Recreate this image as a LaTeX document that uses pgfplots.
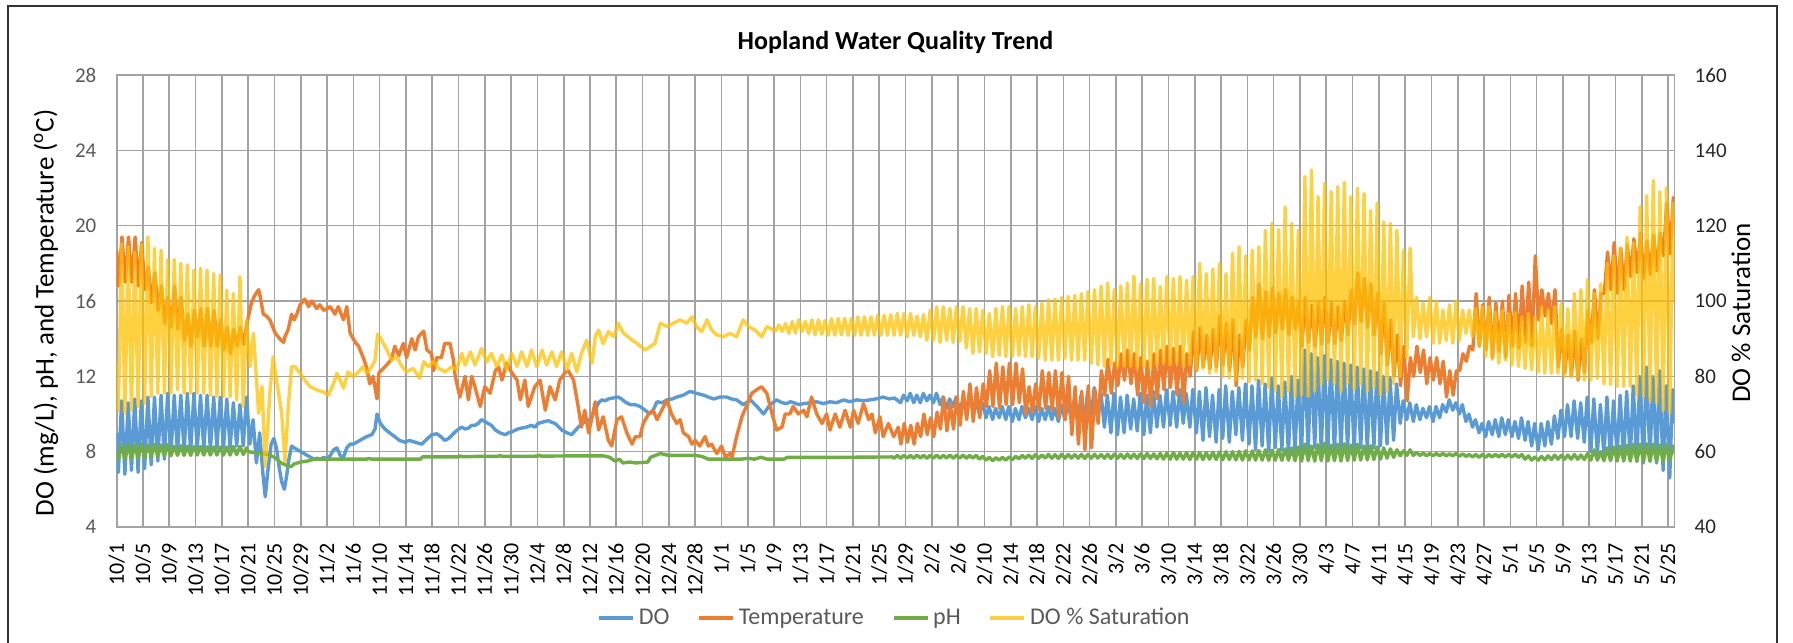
\documentclass[border=0pt]{standalone}
\usepackage{pgfplots}
\pgfplotsset{compat=1.18}
\usepackage{fontspec}
\setmainfont{Carlito}
\definecolor{cDO}{HTML}{5B9BD5}
\definecolor{cT}{HTML}{ED7D31}
\definecolor{cPH}{HTML}{70AD47}
\definecolor{cS}{HTML}{FFC000}
\definecolor{gridc}{HTML}{A3A3A3}
\definecolor{tickc}{HTML}{595959}
\begin{document}
\begin{tikzpicture}
\pgfplotsset{
  common/.style={
    at={(58.35bp,58bp)}, anchor=south west,
    scale only axis, width=778.8bp, height=226bp,
    xmin=0, xmax=236.95,
    major tick length=0pt,
    /pgf/number format/assume math mode=true,
    every axis plot/.append style={line width=1.7bp, line join=round, mark=none},
  }
}
\begin{axis}[common,
  ymin=4, ymax=28, ytick={4,8,...,28},
  xtick={0,4,...,236},
  xticklabels={10/1,10/5,10/9,10/13,10/17,10/21,10/25,10/29,11/2,11/6,11/10,11/14,11/18,11/22,11/26,11/30,12/4,12/8,12/12,12/16,12/20,12/24,12/28,1/1,1/5,1/9,1/13,1/17,1/21,1/25,1/29,2/2,2/6,2/10,2/14,2/18,2/22,2/26,3/2,3/6,3/10,3/14,3/18,3/22,3/26,3/30,4/3,4/7,4/11,4/15,4/19,4/23,4/27,5/1,5/5,5/9,5/13,5/17,5/21,5/25},
  grid=major,
  major grid style={draw=gridc, line width=0.8bp},
  axis line style={draw=gridc, line width=0.8bp},
  xticklabel style={rotate=90, anchor=east, font=\fontsize{11bp}{13bp}\selectfont, inner sep=0pt},
  xticklabel shift=8bp,
  yticklabel style={font=\fontsize{10.5bp}{12bp}\selectfont, text=tickc, inner sep=0pt},
  yticklabel shift=10bp,
  ytick pos=left, xtick pos=bottom,
]
% DO
\addplot[cDO] coordinates {
(0,9.0) (0.25,6.9) (0.75,10.7) (1.25,6.8) (1.75,10.6) (2.25,7.0) (2.75,10.8) (3.25,6.9) (3.75,10.7) (4.25,7.1) (4.75,10.9) (5.25,7.3) (5.75,10.9) (6.25,7.5) (6.75,11.0) (7.25,7.6) (7.75,11.1) (8.25,7.8) (8.75,11.0) (9.25,7.9) (9.75,11.0) (10.25,8.0) (10.75,11.1) (11.25,8.0) (11.75,11.1) (12.25,8.1) (12.75,11.0) (13.25,8.1) (13.75,11.0) (14.25,8.1) (14.75,10.9) (15.25,8.2) (15.75,10.9) (16.25,8.2) (16.75,10.8) (17.25,8.2) (17.75,10.6) (18.25,8.3) (18.75,10.5) (19.25,8.3) (19.75,10.9)
(20.25,8.4) (20.75,9.7) (21.25,7.4) (21.75,9.0) (22.25,6.8) (22.6,5.6) (23.0,7.0) (23.5,8.4) (23.9,8.7) (24.3,8.2) (24.7,7.2) (25.1,6.4) (25.5,6.0) (25.8,6.6) (26.2,7.6) (26.6,8.3) (27.0,8.2) (27.5,8.1) (28,8.0) (28.5,7.9) (29,7.8) (29.5,7.7) (30,7.6) (30.5,7.65) (31,7.6) (31.5,7.7) (32,7.6) (32.5,7.8) (33,8.1) (33.5,8.2) (34,7.8) (34.5,7.7) (35,8.2) (35.5,8.4) (36,8.4) (36.5,8.5) (37,8.6) (37.5,8.7) (38,8.8) (38.8,8.9) (39.3,9.2) (39.6,10.0) (40.1,9.5) (40.8,9.2) (41.5,9.0) (42.3,8.8) (43,8.6) (43.9,8.5) (44.5,8.6) (45.4,8.5) (46.4,8.4) (47,8.6) (47.9,8.9) (48.7,8.95) (49.3,8.8) (49.9,8.6) (50.5,8.7) (51.5,9.05) (52,9.2) (52.5,9.3) (53,9.2) (53.5,9.25) (54,9.4) (54.5,9.4) (55,9.5) (55.5,9.7) (56,9.6) (56.5,9.5) (57,9.4) (57.6,9.15) (58.3,9.0) (59.1,8.9) (59.6,9.0) (60.1,9.05) (61,9.2) (61.6,9.25) (62.3,9.3) (63.1,9.4) (63.6,9.3) (64.1,9.5) (65.1,9.6) (65.7,9.65) (66.2,9.55) (66.7,9.5) (67.7,9.15) (68.5,9.0) (69.2,8.9) (70.2,9.3) (71.2,9.6) (72,9.7) (72.8,10.2) (73.3,10.6) (73.8,10.75) (74.3,10.7) (74.8,10.8) (75.5,10.85) (76.3,10.9) (76.8,10.8) (77.3,10.65) (78.1,10.5) (78.8,10.5) (79.6,10.4) (80.4,10.2) (81.1,10.0) (81.6,10.2) (82.2,10.65) (83,10.6) (83.7,10.75) (84.5,10.8) (85.2,10.9) (86.2,11.0) (87.2,11.2) (88.2,11.1) (89.3,11.0) (90,10.9) (90.8,10.8) (91.8,10.9) (92.8,10.9) (93.5,10.8) (94.3,10.75) (95.3,10.5) (95.8,10.6) (96.4,10.75) (97.4,10.4) (98.4,10.0) (99.4,10.5) (100.4,10.75) (101.2,10.6) (101.9,10.55) (102.5,10.65) (103,10.6) (103.7,10.5) (104.5,10.55) (105.5,10.6) (106.5,10.65) (107.5,10.55) (108.5,10.65) (109.5,10.6) (110.6,10.75) (111.5,10.65) (112.6,10.75) (113.5,10.7) (114.6,10.75) (115.5,10.8) (116.6,10.9) (117.5,10.8) (118.3,10.85)
(119.25,10.6) (119.7,11.0) (120.25,10.7) (120.7,11.1) (121.25,10.6) (121.7,11.0) (122.25,10.6) (122.7,11.1) (123.25,10.7) (123.7,11.0) (124.25,10.6) (124.7,11.1) (125.25,10.5) (125.7,10.9) (126.25,10.3) (126.7,10.8) (127.25,10.4) (127.7,10.9) (128.25,10.2) (128.7,10.7) (129.25,10.3) (129.7,10.8) (130.25,10.2) (130.7,10.6) (131.25,10.0) (131.7,10.6) (132.25,9.8) (132.7,10.4) (133.25,9.7) (133.7,10.3) (134.25,9.8) (134.7,10.4) (135.25,9.7) (135.7,10.4) (136.25,9.6) (136.7,10.3) (137.25,9.7) (137.7,10.4) (138.25,9.8) (138.7,10.3) (139.25,9.7) (139.7,10.4) (140.25,9.6) (140.7,10.3) (141.25,9.7) (141.7,10.4) (142.25,9.7) (142.7,10.3) (143.25,9.6) (143.7,10.5) (144.25,9.7) (144.7,10.6) (145.25,9.7) (145.7,10.8) (146.25,9.6) (146.7,11.0) (147.25,9.6) (147.7,11.2) (148.25,9.8) (148.7,11.4) (149.25,9.7) (149.7,11.2) (150.25,9.3) (150.7,11.0) (151.25,9.0) (151.7,11.1) (152.25,8.9) (152.7,10.9) (153.25,9.0) (153.7,11.0) (154.25,9.2) (154.7,10.8) (155.25,9.1) (155.7,11.1) (156.25,8.9) (156.7,11.0) (157.25,9.0) (157.7,11.2) (158.25,9.3) (158.7,11.0) (159.25,9.3) (159.7,11.3) (160.25,9.4) (160.7,11.2) (161.25,9.3) (161.7,11.3) (162.25,9.5) (162.7,11.1) (163.25,9.3) (163.7,11.3) (164.25,9.0) (164.7,11.2) (165.25,8.6) (165.7,11.4) (166.25,8.8) (166.7,11.0) (167.25,8.5) (167.7,11.3) (168.25,8.7) (168.7,11.5) (169.25,8.5) (169.7,11.2) (170.25,8.9) (170.7,11.4) (171.25,8.6) (171.7,11.6) (172.25,8.4) (172.7,11.5) (173.25,8.1) (173.7,11.8) (174.25,8.3) (174.7,11.6) (175.25,8.0) (175.7,11.9) (176.25,8.2) (176.7,11.5) (177.25,8.1) (177.7,11.7) (178.25,7.9) (178.7,12.0) (179.25,8.0) (179.7,11.8) (180.25,8.0) (180.7,13.4) (181.25,7.9) (181.7,13.2) (182.25,8.2) (182.7,13.0) (183.25,8.0) (183.7,13.1) (184.25,8.1) (184.7,12.9) (185.25,7.9) (185.7,12.8) (186.25,8.0) (186.7,12.7) (187.25,8.1) (187.7,12.6) (188.25,8.0) (188.7,12.5) (189.25,8.2) (189.7,12.4) (190.25,8.1) (190.7,12.3) (191.25,8.2) (191.7,12.2) (192.25,8.3) (192.7,12.0) (193.25,8.4) (193.7,11.9) (194.25,8.6) (194.7,11.6) (195.25,9.5) (195.7,10.7) (196.25,9.7) (196.7,10.6) (197.25,9.6) (197.7,10.5) (198.25,9.7) (198.7,10.3) (199.25,9.8) (199.7,10.4) (200.25,9.6) (200.7,10.4) (201.25,9.8) (201.7,10.5) (202.25,10.1) (202.7,10.75) (203.25,10.2) (203.7,10.6) (204.25,10.0) (204.7,10.5) (205.25,9.6) (205.7,10.0) (206.25,9.3) (206.7,9.7) (207.25,9.0) (207.7,9.5) (208.25,8.8) (208.7,9.6) (209.25,8.9) (209.7,9.7) (210.25,8.8) (210.7,9.8) (211.25,8.9) (211.7,9.7) (212.25,8.8) (212.7,9.6) (213.25,8.7) (213.7,9.8) (214.25,8.6) (214.7,9.6) (215.25,8.3) (215.7,9.5) (216.25,8.1) (216.7,9.5) (217.25,8.3) (217.7,9.6) (218.25,8.4) (218.7,9.9) (219.25,8.7) (219.7,10.2) (220.25,8.8) (220.7,10.5) (221.25,8.8) (221.7,10.7) (222.25,8.7) (222.7,10.6) (223.25,8.5) (223.7,10.9) (224.25,8.0) (224.7,10.8) (225.25,7.9) (225.7,10.5) (226.25,7.8) (226.7,10.9) (227.25,7.6) (227.7,10.7) (228.25,7.8) (228.7,11.0) (229.25,7.7) (229.7,11.2) (230.25,7.6) (230.7,11.5) (231.25,7.5) (231.7,12.0) (232.25,7.4) (232.7,12.5) (233.25,7.6) (233.7,12.0) (234.25,7.4) (234.7,12.3) (235.25,7.0) (235.7,11.5) (236.25,6.6) (236.7,11.3) (236.95,9.5)
};
% Temperature
\addplot[cT] coordinates {
(0,18.7) (0.3,16.8) (0.8,19.4) (1.3,17.0) (1.8,19.4) (2.3,17.0) (2.8,19.4) (3.3,16.8) (3.8,19.1) (4.3,16.6) (4.8,17.8) (5.3,15.9) (5.8,17.5) (6.3,15.5) (6.8,16.8) (7.3,14.8) (7.8,16.2) (8.3,14.6) (8.8,16.8) (9.3,14.5) (9.8,16.2) (10.3,13.9) (10.8,15.3) (11.3,13.6) (11.8,15.5) (12.3,14.1) (12.8,15.6) (13.3,13.6) (13.8,15.6) (14.3,13.6) (14.8,15.5) (15.3,13.6) (15.8,15.0) (16.3,13.4) (16.8,14.6) (17.3,13.2) (17.8,14.5) (18.3,13.6) (18.8,14.6) (19.3,13.7)
(19.8,14.8) (20.5,15.9) (21.0,16.3) (21.6,16.6) (21.8,16.3) (22.3,15.3) (22.8,15.2) (23.3,15.0) (24.1,14.3) (24.8,14.0) (25.4,13.8) (25.6,14.1) (26.1,14.5) (26.6,15.3) (27.0,15.0) (27.4,15.3) (27.9,15.8) (28.6,16.1) (29.2,15.7) (29.7,16.0) (30.4,15.6) (30.9,15.8) (31.5,15.5) (32.0,15.6) (32.5,15.7) (33.2,15.3) (33.7,15.7) (34.5,15.0) (35.0,15.7) (35.5,14.3) (36.3,13.8) (36.8,13.6) (37.5,13.0) (38.0,12.5) (38.5,11.6) (39.0,12.0) (39.6,10.8) (39.9,12.2) (40.8,12.5) (41.8,12.9) (42.3,13.6) (42.9,13.1) (43.6,13.75) (44.1,13.0) (44.9,14.0) (45.4,13.4) (45.9,14.1) (46.7,14.4) (47.2,13.4) (47.9,13.2) (48.2,12.3) (48.7,13.0) (49.4,13.0) (49.9,13.75) (50.7,13.75) (51.2,12.9) (51.5,12.0) (52.2,10.9) (53.0,12.0) (53.5,10.75) (54.0,12.0) (54.5,11.45) (55.3,10.4) (56.0,11.45) (56.8,11.1) (57.6,12.3) (58.1,12.5) (58.6,11.8) (59.3,12.7) (60.1,12.2) (60.9,11.8) (61.4,10.75) (62.1,11.8) (62.6,10.4) (63.6,11.45) (64.4,11.8) (65.2,10.2) (65.9,11.45) (66.7,10.75) (67.4,11.8) (68.2,12.2) (68.7,12.3) (69.5,11.8) (70.2,10.4) (70.7,9.3) (71.2,10.2) (71.8,9.0) (72.8,10.65) (73.3,9.15) (74.0,9.85) (74.8,8.6) (75.3,8.3) (76.1,9.7) (76.8,9.85) (77.6,9.0) (78.4,8.4) (78.9,8.8) (79.6,8.8) (80.1,9.5) (80.9,10.0) (81.6,10.2) (82.2,9.7) (82.9,10.2) (83.7,10.75) (84.4,10.0) (85.2,9.5) (85.7,9.7) (86.2,9.0) (87.0,8.8) (87.5,8.4) (88.0,8.6) (88.7,8.3) (89.5,8.8) (90.0,8.3) (90.5,8.4) (91.3,7.9) (92.0,8.3) (92.6,7.7) (93.3,7.9) (93.6,7.7) (94.3,8.8) (95.1,9.85) (95.8,10.4) (96.6,11.1) (97.4,11.3) (98.1,11.45) (98.9,11.1) (99.7,10.0) (100.4,9.15) (101.2,9.3) (101.7,10.0) (102.4,10.0) (102.9,10.4) (103.7,10.0) (104.5,10.2) (105.0,9.85) (105.7,10.9) (106.5,10.0) (107.3,9.5) (108.0,10.0) (108.5,9.15) (109.3,10.0) (110.0,9.3) (110.8,10.2) (111.6,9.3) (112.1,10.2) (112.8,9.5) (113.6,10.55) (114.4,9.7) (114.9,10.0) (115.4,9.0) (116.1,9.85) (116.6,8.8) (117.4,9.5) (118.2,8.8) (118.9,9.3)
(119.3,8.4) (119.8,9.5) (120.3,8.5) (120.8,9.4) (121.3,8.4) (121.8,9.5) (122.3,8.8) (122.8,10.0) (123.3,8.9) (123.8,9.8) (124.3,8.8) (124.8,10.1) (125.3,9.2) (125.8,10.9) (126.3,9.1) (126.8,10.6) (127.3,9.2) (127.8,10.9) (128.3,9.4) (128.8,11.2) (129.3,9.7) (129.8,11.6) (130.3,9.6) (130.8,11.4) (131.3,9.8) (131.8,11.6) (132.3,10.4) (132.8,12.3) (133.3,10.4) (133.8,12.7) (134.3,10.3) (134.8,12.5) (135.3,10.5) (135.8,12.7) (136.3,10.5) (136.8,12.7) (137.3,10.6) (137.8,12.4) (138.3,10.0) (138.8,11.45) (139.3,10.1) (139.8,11.6) (140.3,10.2) (140.8,12.3) (141.3,10.3) (141.8,12.2) (142.3,10.2) (142.8,12.3) (143.3,9.8) (143.8,12.2) (144.3,9.7) (144.8,12.0) (145.3,8.9) (145.8,11.45) (146.3,8.4) (146.8,11.2) (147.3,8.1) (147.8,11.5) (148.3,8.2) (148.8,11.3) (149.3,9.5) (149.8,12.3) (150.3,11.0) (150.8,12.9) (151.3,11.1) (151.8,12.7) (152.3,11.5) (152.8,13.2) (153.3,11.8) (153.8,13.4) (154.3,11.6) (154.8,13.2) (155.3,11.0) (155.8,13.0) (156.3,10.6) (156.8,12.8) (157.3,10.4) (157.8,13.2) (158.3,10.8) (158.8,13.4) (159.3,11.3) (159.8,13.6) (160.3,11.4) (160.8,13.5) (161.3,11.0) (161.8,13.6) (162.3,10.6) (162.8,13.2) (163.3,12.0) (163.8,14.4) (164.3,12.3) (164.8,14.6) (165.3,12.5) (165.8,14.2) (166.3,12.4) (166.8,14.5) (167.3,12.5) (167.8,15.2) (168.3,12.6) (168.8,14.8) (169.3,12.3) (169.8,15.0) (170.3,11.5) (170.8,14.2) (171.3,12.5) (171.8,15.0) (172.3,13.4) (172.8,16.2) (173.3,14.1) (173.8,16.9) (174.3,14.0) (174.8,16.5) (175.3,14.1) (175.8,16.7) (176.3,14.3) (176.8,16.4) (177.3,14.5) (177.8,16.6) (178.3,14.2) (178.8,16.2) (179.3,14.5) (179.8,16.0) (180.3,13.6) (180.8,16.2) (181.3,13.8) (181.8,15.8) (182.3,13.6) (182.8,16.0) (183.3,13.7) (183.8,16.2) (184.3,13.8) (184.8,15.9) (185.3,13.75) (185.8,15.7) (186.3,13.9) (186.8,16.0) (187.3,14.2) (187.8,16.6) (188.3,14.8) (188.8,17.5) (189.3,14.9) (189.8,17.2) (190.3,14.6) (190.8,16.9) (191.3,14.2) (191.8,16.4) (192.3,13.2) (192.8,15.9) (193.3,12.6) (193.8,15.0) (194.3,12.0) (194.8,14.2) (195.3,11.5) (195.8,13.6) (196.3,10.7) (196.8,13.0) (197.3,12.0) (197.8,13.6) (198.3,12.2) (198.8,13.4) (199.3,11.6) (199.8,13.0) (200.3,11.8) (200.8,13.0) (201.3,11.6) (201.8,12.8) (202.3,10.9) (202.8,12.3) (203.3,11.0) (203.8,12.3) (204.3,12.3) (204.8,13.2) (205.3,12.8) (205.8,13.6) (206.3,13.4) (206.8,16.4) (207.3,13.6) (207.8,15.8) (208.3,13.4) (208.8,16.2) (209.3,13.0) (209.8,15.9) (210.3,13.3) (210.8,16.0) (211.3,13.0) (211.8,16.3) (212.3,13.6) (212.8,16.4) (213.3,13.5) (213.8,16.8) (214.3,13.8) (214.8,17.0) (215.3,13.6) (215.8,18.4) (216.3,15.0) (216.8,16.6) (217.3,15.2) (217.8,16.4) (218.3,14.8) (218.8,16.6) (219.3,12.5) (219.8,14.5) (220.3,12.2) (220.8,14.2) (221.3,12.0) (221.8,14.4) (222.3,11.8) (222.8,14.0) (223.3,12.2) (223.8,15.5) (224.3,13.8) (224.8,16.6) (225.3,14.0) (225.8,16.4) (226.3,16.4) (226.8,18.6) (227.3,16.6) (227.8,19.1) (228.3,16.4) (228.8,18.8) (229.3,16.6) (229.8,19.0) (230.3,17.3) (230.8,19.3) (231.3,17.5) (231.8,19.6) (232.3,17.2) (232.8,19.2) (233.3,17.4) (233.8,19.5) (234.3,17.6) (234.8,19.6) (235.3,18.4) (235.8,21.2) (236.3,18.5) (236.8,21.5) (236.95,20.5)
};
% pH
\addplot[cPH] coordinates {
(0,7.9) (0.25,7.6) (0.75,8.35) (1.25,7.6) (1.75,8.35) (2.25,7.62) (2.75,8.38) (3.25,7.65) (3.75,8.4) (4.25,7.7) (4.75,8.35) (5.25,7.75) (5.75,8.38) (6.25,7.75) (6.75,8.35) (7.25,7.78) (7.75,8.38) (8.25,7.78) (8.75,8.3) (9.25,7.8) (9.75,8.32) (10.25,7.8) (10.75,8.3) (11.25,7.8) (11.75,8.28) (12.25,7.82) (12.75,8.28) (13.25,7.82) (13.75,8.26) (14.25,7.82) (14.75,8.26) (15.25,7.82) (15.75,8.25) (16.25,7.82) (16.75,8.25) (17.25,7.82) (17.75,8.28) (18.25,7.84) (18.75,8.28) (19.25,7.85) (19.75,8.2)
(20.0,8.0) (21,7.95) (22,7.9) (23,7.85) (24,7.7) (25,7.4) (26,7.25) (26.5,7.2) (27,7.35) (28,7.45) (29,7.5) (30,7.6) (38,7.6) (38.4,7.64) (38.8,7.6) (46.2,7.6) (46.5,7.72) (52,7.72) (52.3,7.78) (52.6,7.73) (55,7.75) (58,7.75) (58.3,7.8) (58.6,7.75) (64,7.76) (64.3,7.81) (64.6,7.76) (70,7.78) (74,7.78) (75,7.7) (75.8,7.5) (76.5,7.6) (77,7.4) (78,7.45) (79,7.4) (80.8,7.45) (81.2,7.7) (82.7,7.9) (84,7.8) (88,7.8) (89,7.75) (90,7.6) (95,7.6) (96,7.65) (97,7.6) (98,7.7) (99,7.6) (101.5,7.6) (102,7.7) (110,7.7) (118,7.72)
(118.25,7.65) (118.75,7.8) (119.25,7.65) (119.75,7.8) (120.25,7.66) (120.75,7.8) (121.25,7.65) (121.75,7.82) (122.25,7.66) (122.75,7.8) (123.25,7.65) (123.75,7.8) (124.25,7.66) (124.75,7.82) (125.25,7.65) (125.75,7.8) (126.25,7.66) (126.75,7.82) (127.25,7.65) (127.75,7.8) (128.25,7.66) (128.75,7.82) (129.25,7.65) (129.75,7.8) (130.25,7.66) (130.75,7.8) (131.25,7.6) (131.75,7.75) (132.25,7.55) (132.75,7.7) (133.25,7.52) (133.75,7.68) (134.25,7.55) (134.75,7.7) (135.25,7.55) (135.75,7.72) (136.25,7.58) (136.75,7.75) (137.25,7.62) (137.75,7.8) (138.25,7.65) (138.75,7.82) (139.25,7.64) (139.75,7.84) (140.25,7.65) (140.75,7.82) (141.25,7.66) (141.75,7.85) (142.25,7.65) (142.75,7.84) (143.25,7.64) (143.75,7.86) (144.25,7.65) (144.75,7.85) (145.25,7.66) (145.75,7.84) (146.25,7.65) (146.75,7.86) (147.25,7.64) (147.75,7.85) (148.25,7.65) (148.75,7.86) (149.25,7.66) (149.75,7.85) (150.25,7.65) (150.75,7.86) (151.25,7.64) (151.75,7.87) (152.25,7.65) (152.75,7.86) (153.25,7.64) (153.75,7.88) (154.25,7.65) (154.75,7.87) (155.25,7.64) (155.75,7.88) (156.25,7.63) (156.75,7.9) (157.25,7.64) (157.75,7.88) (158.25,7.62) (158.75,7.9) (159.25,7.6) (159.75,7.92) (160.25,7.6) (160.75,7.95) (161.25,7.6) (161.75,7.93) (162.25,7.6) (162.75,7.95) (163.25,7.58) (163.75,7.95) (164.25,7.6) (164.75,7.96) (165.25,7.58) (165.75,7.95) (166.25,7.6) (166.75,7.97) (167.25,7.58) (167.75,7.98) (168.25,7.57) (168.75,8.0) (169.25,7.58) (169.75,8.0) (170.25,7.56) (170.75,8.02) (171.25,7.55) (171.75,8.05) (172.25,7.56) (172.75,8.04) (173.25,7.55) (173.75,8.06) (174.25,7.55) (174.75,8.1) (175.25,7.54) (175.75,8.08) (176.25,7.55) (176.75,8.12) (177.25,7.54) (177.75,8.15) (178.25,7.55) (178.75,8.2) (179.25,7.52) (179.75,8.25) (180.25,7.5) (180.75,8.4) (181.25,7.52) (181.75,8.3) (182.25,7.5) (182.75,8.38) (183.25,7.52) (183.75,8.45) (184.25,7.5) (184.75,8.35) (185.25,7.52) (185.75,8.4) (186.25,7.5) (186.75,8.42) (187.25,7.52) (187.75,8.35) (188.25,7.55) (188.75,8.4) (189.25,7.55) (189.75,8.3) (190.25,7.56) (190.75,8.32) (191.25,7.58) (191.75,8.25) (192.25,7.6) (192.75,8.2) (193.25,7.65) (193.75,8.15) (194.25,7.7) (194.75,8.1) (195.25,7.78) (195.75,8.05) (196.25,7.8) (196.75,8.1) (197.25,7.8) (197.75,7.95) (198.25,7.8) (198.75,7.92) (199.25,7.78) (199.75,7.9) (200.25,7.78) (200.75,7.9) (201.25,7.78) (201.75,7.9) (202.25,7.78) (202.75,7.88) (203.25,7.78) (203.75,7.9) (204.25,7.76) (204.75,7.88) (205.25,7.75) (205.75,7.85) (206.25,7.72) (206.75,7.85) (207.25,7.7) (207.75,7.85) (208.25,7.7) (208.75,7.85) (209.25,7.72) (209.75,7.85) (210.25,7.72) (210.75,7.86) (211.25,7.72) (211.75,7.85) (212.25,7.72) (212.75,7.86) (213.25,7.7) (213.75,7.85) (214.25,7.6) (214.75,7.78) (215.25,7.55) (215.75,7.72) (216.25,7.55) (216.75,7.75) (217.25,7.56) (217.75,7.78) (218.25,7.58) (218.75,7.82) (219.25,7.6) (219.75,7.8) (220.25,7.6) (220.75,7.82) (221.25,7.6) (221.75,7.85) (222.25,7.6) (222.75,7.82) (223.25,7.58) (223.75,7.9) (224.25,7.55) (224.75,8.1) (225.25,7.55) (225.75,8.0) (226.25,7.52) (226.75,8.2) (227.25,7.52) (227.75,8.25) (228.25,7.5) (228.75,8.3) (229.25,7.5) (229.75,8.35) (230.25,7.5) (230.75,8.4) (231.25,7.48) (231.75,8.4) (232.25,7.5) (232.75,8.42) (233.25,7.48) (233.75,8.4) (234.25,7.5) (234.75,8.35) (235.25,7.48) (235.75,8.4) (236.25,7.5) (236.75,8.3) (236.95,7.9)
};
\end{axis}
\begin{axis}[common,
  ymin=40, ymax=160, ytick={40,60,...,160},
  axis y line*=right, axis x line=none,
  axis line style={draw=gridc, line width=0.8bp},
  yticklabel style={font=\fontsize{10.5bp}{12bp}\selectfont, text=black!85, inner sep=0pt},
  yticklabel shift=10bp,
  legend style={at={(0.5,-0.2013)}, anchor=center, draw=none, fill=none,
    legend columns=4, font=\fontsize{12bp}{14bp}\selectfont, text=tickc,
    /tikz/every even column/.append style={column sep=12bp}},
  legend image code/.code={\draw[#1] (0bp,0bp) -- (17bp,0bp);},
]
\addlegendimage{cDO, line width=1.7bp}\addlegendentry{DO}
\addlegendimage{cT, line width=1.7bp}\addlegendentry{Temperature}
\addlegendimage{cPH, line width=1.7bp}\addlegendentry{pH}
\addplot[cS, draw opacity=0.75] coordinates {
(0,84) (0.25,71) (0.75,115.3) (1.25,70.2) (1.75,114.5) (2.25,71) (2.75,113) (3.25,72) (3.75,115) (4.25,72.8) (4.75,117) (5.25,74.6) (5.75,114) (6.25,75.5) (6.75,113.5) (7.25,75.5) (7.75,110.9) (8.25,75.5) (8.75,111) (9.25,76.4) (9.75,110) (10.25,75.5) (10.75,109.6) (11.25,75.5) (11.75,108.2) (12.25,75.5) (12.75,108.7) (13.25,75.5) (13.75,108.2) (14.25,75) (14.75,107.3) (15.25,74.6) (15.75,106.9) (16.25,74.6) (16.75,102.9) (17.25,74.6) (17.75,102) (18.25,73.7) (18.75,106.5) (19.25,72) (19.75,95)
(20.3,82.6) (20.8,91.4) (21.6,70.2) (22.1,77.3) (22.6,56) (23.3,75.5) (23.8,85.2) (24.3,79) (25.1,70.2) (25.6,57.3) (26.1,72) (26.6,82.6) (27.1,82.6) (27.9,80.8) (28.6,79) (29.4,77.3) (30.4,76.4) (31.4,75.9) (32.2,75.0) (33.0,78.1) (33.5,80.8) (34.0,79) (34.5,76.8) (35.2,81.2) (36.0,79.9) (36.8,81.2) (37.5,82.6) (38.0,80.8) (38.8,82.6) (39.3,84.3) (39.7,91.2) (40.3,89.6) (41.1,87) (41.8,84.3) (42.6,85.2) (43.4,82.6) (44.1,81.2) (45.1,82.1) (46.1,79.5) (46.7,83.9) (47.4,82.6) (48.2,83.9) (49.0,82.1) (50.0,81.2) (51.0,82.6) (51.7,81.7) (52.5,86.1) (53.0,83) (53.8,86.5) (54.5,83) (55.5,87.4) (56.3,83.9) (57.0,86.1) (57.8,82.6) (58.6,85.7) (59.3,81.7) (60.1,86.1) (60.9,82.6) (61.6,86.5) (62.4,82.6) (63.1,87) (63.9,82.6) (64.7,87) (65.4,83) (66.2,86.5) (66.9,82.6) (67.7,86.5) (68.5,81.7) (69.2,86.1) (70.0,81.2) (70.7,86.1) (71.5,89.6) (72.3,83.5) (72.8,90.5) (73.3,92.3) (74.0,88.7) (74.8,91.9) (75.6,90.5) (76.3,94.1) (77.1,91.4) (77.8,90.5) (78.4,89.6) (79.1,88.8) (80.4,87) (81.9,88.8) (82.7,94.1) (83.7,93.2) (84.7,94.1) (85.7,95) (86.7,94.1) (87.5,95.8) (88.2,93.2) (89.0,91.9) (89.8,95) (90.5,92.3) (91.3,91) (92.3,90.5) (93.3,91.4) (94.3,90.5) (95.3,95) (96.1,93.2) (97.1,92.3) (98.1,90.5) (98.9,93.2) (99.9,92.3)
(100.25,92.0) (100.75,93.6) (101.25,91.9) (101.75,94.0) (102.25,91.4) (102.75,94.5) (103.25,91.5) (103.75,95.0) (104.25,91.9) (104.75,94.6) (105.25,91.4) (105.75,95.0) (106.25,91.0) (106.75,95.0) (107.25,91.2) (107.75,94.8) (108.25,90.9) (108.75,95.3) (109.25,90.9) (109.75,95.4) (110.25,91.0) (110.75,95.4) (111.25,90.9) (111.75,95.4) (112.25,90.9) (112.75,95.8) (113.25,90.9) (113.75,95.8) (114.25,90.9) (114.75,95.8) (115.25,90.9) (115.75,96.2) (116.25,90.9) (116.75,96.2) (117.25,90.9) (117.75,96.4) (118.25,90.9) (118.75,96.7) (119.25,90.9) (119.75,96.7) (120.25,90.5) (120.75,96.7) (121.25,90.9) (121.75,96.0) (122.25,90.5) (122.75,96.4) (123.25,89.6) (123.75,97.6) (124.25,89.6) (124.75,98.5) (125.25,89.0) (125.75,98.5) (126.25,89.6) (126.75,98.0) (127.25,89.0) (127.75,98.5) (128.25,89.2) (128.75,98.5) (129.25,87.5) (129.75,98.0) (130.25,86.1) (130.75,98.0) (131.25,86.5) (131.75,97.5) (132.25,86.1) (132.75,96.7) (133.25,85.2) (133.75,98.0) (134.25,85.6) (134.75,98.5) (135.25,85.2) (135.75,98.5) (136.25,85.2) (136.75,98.0) (137.25,85.6) (137.75,98.5) (138.25,85.2) (138.75,99.0) (139.25,85.2) (139.75,98.5) (140.25,84.8) (140.75,99.4) (141.25,84.3) (141.75,100.3) (142.25,84.3) (142.75,100.5) (143.25,84.3) (143.75,101.0) (144.25,84.8) (144.75,101.2) (145.25,84.3) (145.75,101.5) (146.25,84.3) (146.75,102.0) (147.25,84.3) (147.75,102.5) (148.25,83.5) (148.75,103.0) (149.25,83.0) (149.75,104.0) (150.25,82.6) (150.75,104.8) (151.25,83.0) (151.75,103.0) (152.25,82.6) (152.75,104.0) (153.25,82.6) (153.75,104.8) (154.25,82.6) (154.75,106.6) (155.25,82.1) (155.75,104.5) (156.25,82.6) (156.75,105.7) (157.25,82.1) (157.75,106.0) (158.25,83.0) (158.75,103.9) (159.25,83.5) (159.75,106.5) (160.25,83.0) (160.75,106.0) (161.25,83.5) (161.75,106.5) (162.25,82.6) (162.75,105.5) (163.25,83.0) (163.75,106.5) (164.25,81.7) (164.75,110.0) (165.25,82.1) (165.75,107.3) (166.25,80.8) (166.75,108.5) (167.25,81.2) (167.75,110.0) (168.25,80.0) (168.75,107.3) (169.25,79.5) (169.75,112.7) (170.25,79.0) (170.75,114.4) (171.25,79.5) (171.75,112.0) (172.25,78.5) (172.75,113.5) (173.25,79.0) (173.75,114.4) (174.25,78.0) (174.75,118.8) (175.25,77.0) (175.75,120.6) (176.25,76.0) (176.75,119.0) (177.25,74.6) (177.75,125.0) (178.25,76.0) (178.75,120.6) (179.25,74.6) (179.75,118.8) (180.25,75.0) (180.75,133.0) (181.25,74.6) (181.75,134.8) (182.25,76.0) (182.75,127.7) (183.25,78.0) (183.75,131.2) (184.25,79.0) (184.75,129.0) (185.25,78.0) (185.75,130.4) (186.25,76.0) (186.75,131.5) (187.25,78.0) (187.75,127.7) (188.25,76.5) (188.75,130.0) (189.25,78.0) (189.75,128.5) (190.25,76.0) (190.75,124.0) (191.25,77.0) (191.75,126.0) (192.25,75.0) (192.75,121.0) (193.25,76.0) (193.75,120.6) (194.25,78.0) (194.75,118.8) (195.25,80.0) (195.75,113.5) (196.25,85.0) (196.75,114.0) (197.25,90.5) (197.75,101.0) (198.25,90.0) (198.75,99.5) (199.25,90.5) (199.75,101.0) (200.25,88.8) (200.75,100.0) (201.25,88.8) (201.75,97.6) (202.25,89.5) (202.75,99.0) (203.25,88.8) (203.75,100.0) (204.25,89.6) (204.75,97.6) (205.25,91.4) (205.75,97.6) (206.25,90.5) (206.75,98.0) (207.25,88.0) (207.75,98.5) (208.25,85.2) (208.75,98.5) (209.25,84.5) (209.75,97.0) (210.25,83.5) (210.75,97.6) (211.25,84.3) (211.75,96.7) (212.25,83.0) (212.75,97.0) (213.25,82.6) (213.75,95.8) (214.25,82.1) (214.75,96.7) (215.25,81.7) (215.75,95.8) (216.25,81.2) (216.75,98.5) (217.25,80.8) (217.75,97.6) (218.25,80.8) (218.75,98.5) (219.25,80.8) (219.75,99.4) (220.25,80.0) (220.75,98.0) (221.25,79.9) (221.75,102.0) (222.25,79.5) (222.75,103.0) (223.25,79.0) (223.75,105.6) (224.25,79.0) (224.75,102.0) (225.25,79.5) (225.75,104.5) (226.25,78.0) (226.75,110.0) (227.25,77.8) (227.75,112.0) (228.25,77.3) (228.75,114.0) (229.25,77.3) (229.75,117.0) (230.25,77.3) (230.75,115.5) (231.25,75.0) (231.75,125.0) (232.25,74.6) (232.75,128.0) (233.25,73.5) (233.75,132.0) (234.25,72.8) (234.75,129.0) (235.25,71.0) (235.75,130.0) (236.25,70.2) (236.75,126.0) (236.95,100)
};
\addlegendentry{DO \% Saturation}
\end{axis}
\node[font=\bfseries\fontsize{13bp}{15bp}\selectfont] at (447.75bp,300.5bp) {Hopland Water Quality Trend};
\node[rotate=90, font=\fontsize{13.5bp}{16bp}\selectfont] at (23bp,165bp) {DO (mg/L), pH, and Temperature (\textsuperscript{o}C)};
\node[rotate=90, font=\fontsize{13.5bp}{16bp}\selectfont] at (870.5bp,165bp) {DO \% Saturation};
\draw[black!80, line width=0.75bp] (4bp,-3bp) -- (4bp,318.5bp) -- (888.5bp,318.5bp) -- (888.5bp,-3bp);
\pgfresetboundingbox
\useasboundingbox (0,0) rectangle (896.5bp,321.5bp);
\end{tikzpicture}
\end{document}
